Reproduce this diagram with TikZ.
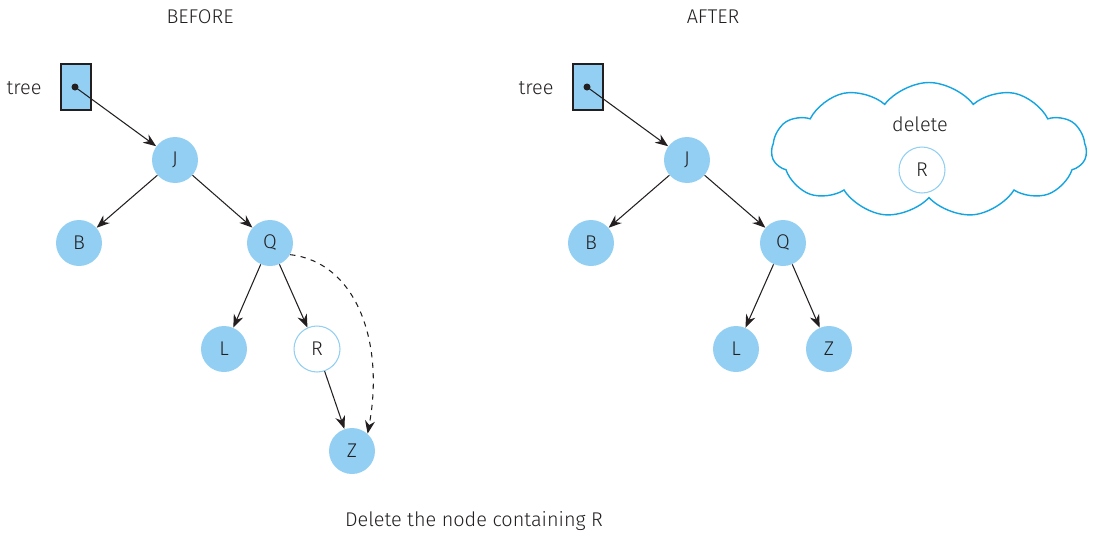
\documentclass[tikz,border=0pt]{standalone}
\usepackage{fontspec}
\setmainfont{Fira Sans Light}[BoldFont=Fira Sans]
\usetikzlibrary{arrows.meta}
\usetikzlibrary{shapes.symbols}
\definecolor{nodeblue}{RGB}{146,207,243}
\definecolor{cloudblue}{RGB}{20,165,225}
\definecolor{inkgray}{RGB}{35,31,32}
\tikzset{
  tnode/.style={circle, fill=nodeblue, minimum size=0.92cm, inner sep=0pt, text=inkgray},
  gone/.style={circle, draw=nodeblue, fill=white, line width=0.6pt, minimum size=0.92cm, inner sep=0pt, text=inkgray},
  ptrbox/.style={draw=inkgray, fill=nodeblue, line width=1.6pt, minimum width=0.6cm, minimum height=0.92cm, inner sep=0pt},
  link/.style={-{Stealth[length=2.6mm,width=2mm]}, draw=inkgray, line width=0.6pt}
}
\begin{document}
\begin{tikzpicture}[x=0.02cm, y=-0.02cm, font=\fontsize{11.3}{13}\selectfont]
\useasboundingbox (0,0) rectangle (1093,535);

% before
\node[text=inkgray] (before) at (200,17) {BEFORE};
\node[text=inkgray] (t1) at (24,88) {tree};
\node[ptrbox] (box1) at (76,87) {};
\fill[inkgray] (75,87) circle (0.07cm) coordinate (p1);
\node[tnode] (J1) at (175,160) {J};
\node[tnode] (B1) at (79,243) {B};
\node[tnode] (Q1) at (270,243) {Q};
\node[tnode] (L1) at (224,349) {L};
\node[gone] (R1) at (317,349) {R};
\node[tnode] (Z1) at (352,451) {Z};

\draw[link] (p1) -- (J1);
\foreach \p/\q in {J1/B1, J1/Q1, Q1/L1, Q1/R1, R1/Z1}
{\draw[link] (\p) -- (\q);}
\draw[link, dashed] (Q1.-30) .. controls (355,262) and (385,340) .. (Z1.48);

% after
\node[text=inkgray] (after) at (713,17) {AFTER};
\node[text=inkgray] (t2) at (536,88) {tree};
\node[ptrbox] (box2) at (588,87) {};
\fill[inkgray] (587,87) circle (0.07cm) coordinate (p2);
\node[tnode] (J2) at (687,160) {J};
\node[tnode] (B2) at (591,243) {B};
\node[tnode] (Q2) at (783,243) {Q};
\node[tnode] (L2) at (736,349) {L};
\node[tnode] (Z2) at (829,349) {Z};

\draw[link] (p2) -- (J2);
\foreach \p/\q in {J2/B2, J2/Q2, Q2/L2, Q2/Z2}
{\draw[link] (\p) -- (\q);}

% the removed node
\node[cloud, draw=cloudblue, line width=0.8pt, cloud puffs=11, cloud puff arc=105,
  aspect=2.4, minimum width=6.3cm, minimum height=2.7cm] (bin) at (929,150) {};
\node[text=inkgray] (del) at (920,124) {delete};
\node[gone] (R2) at (922,170) {R};

\node[text=inkgray] (caption) at (474,521) {Delete the node containing R};
\end{tikzpicture}
\end{document}
